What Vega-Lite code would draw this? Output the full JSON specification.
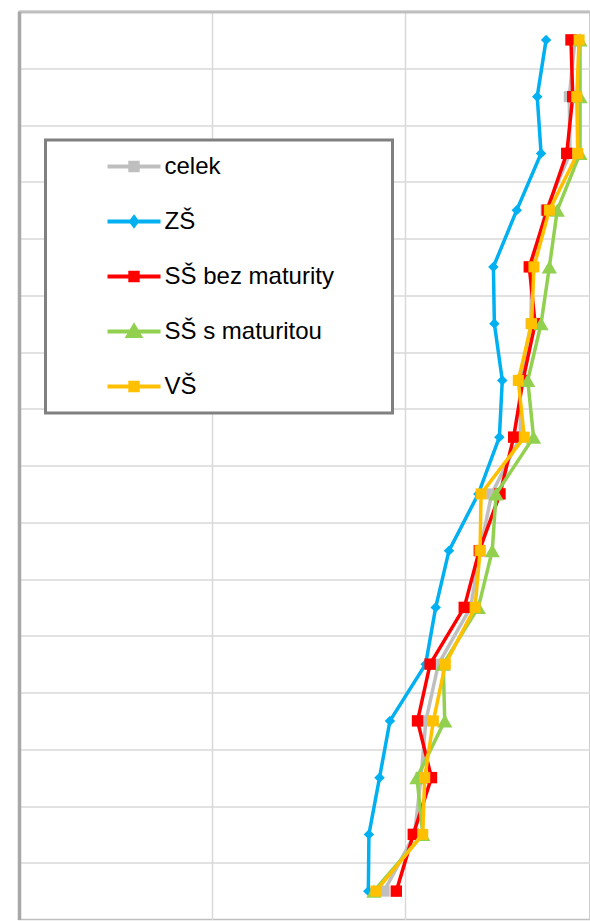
{
  "$schema": "https://vega.github.io/schema/vega-lite/v6.json",
  "width": 571,
  "height": 908,
  "autosize": {"type": "none"},
  "padding": {"left": 19, "top": 11.5, "right": 0, "bottom": 1},
  "background": "white",
  "config": {
    "view": {"stroke": "#bfbfbf", "strokeWidth": 1.5},
    "font": "Liberation Sans"
  },
  "data": {
    "values": [
      {"row": 1, "series": "celek", "value": 288.1}, {"row": 2, "series": "celek", "value": 285.1}, {"row": 3, "series": "celek", "value": 285.5}, {"row": 4, "series": "celek", "value": 273.1},
      {"row": 5, "series": "celek", "value": 265.6}, {"row": 6, "series": "celek", "value": 265.3}, {"row": 7, "series": "celek", "value": 259.6}, {"row": 8, "series": "celek", "value": 259.8},
      {"row": 9, "series": "celek", "value": 244.9}, {"row": 10, "series": "celek", "value": 238.9}, {"row": 11, "series": "celek", "value": 234.0}, {"row": 12, "series": "celek", "value": 217.3},
      {"row": 13, "series": "celek", "value": 210.8}, {"row": 14, "series": "celek", "value": 208.3}, {"row": 15, "series": "celek", "value": 204.9}, {"row": 16, "series": "celek", "value": 189.2},
      {"row": 1, "series": "ZŠ", "value": 273.1}, {"row": 2, "series": "ZŠ", "value": 268.5}, {"row": 3, "series": "ZŠ", "value": 270.5}, {"row": 4, "series": "ZŠ", "value": 257.9},
      {"row": 5, "series": "ZŠ", "value": 245.8}, {"row": 6, "series": "ZŠ", "value": 246.3}, {"row": 7, "series": "ZŠ", "value": 250.4}, {"row": 8, "series": "ZŠ", "value": 248.9},
      {"row": 9, "series": "ZŠ", "value": 238.0}, {"row": 10, "series": "ZŠ", "value": 222.8}, {"row": 11, "series": "ZŠ", "value": 215.9}, {"row": 12, "series": "ZŠ", "value": 210.7},
      {"row": 13, "series": "ZŠ", "value": 192.2}, {"row": 14, "series": "ZŠ", "value": 186.8}, {"row": 15, "series": "ZŠ", "value": 181.3}, {"row": 16, "series": "ZŠ", "value": 181.0},
      {"row": 1, "series": "SŠ bez maturity", "value": 286.0}, {"row": 2, "series": "SŠ bez maturity", "value": 286.9}, {"row": 3, "series": "SŠ bez maturity", "value": 283.8}, {"row": 4, "series": "SŠ bez maturity", "value": 273.7},
      {"row": 5, "series": "SŠ bez maturity", "value": 264.4}, {"row": 6, "series": "SŠ bez maturity", "value": 267.4}, {"row": 7, "series": "SŠ bez maturity", "value": 261.1}, {"row": 8, "series": "SŠ bez maturity", "value": 256.3},
      {"row": 9, "series": "SŠ bez maturity", "value": 249.2}, {"row": 10, "series": "SŠ bez maturity", "value": 238.5}, {"row": 11, "series": "SŠ bez maturity", "value": 230.7}, {"row": 12, "series": "SŠ bez maturity", "value": 213.0},
      {"row": 13, "series": "SŠ bez maturity", "value": 206.5}, {"row": 14, "series": "SŠ bez maturity", "value": 213.7}, {"row": 15, "series": "SŠ bez maturity", "value": 204.3}, {"row": 16, "series": "SŠ bez maturity", "value": 195.5},
      {"row": 1, "series": "SŠ s maturitou", "value": 290.7}, {"row": 2, "series": "SŠ s maturitou", "value": 290.7}, {"row": 3, "series": "SŠ s maturitou", "value": 290.7}, {"row": 4, "series": "SŠ s maturitou", "value": 278.9},
      {"row": 5, "series": "SŠ s maturitou", "value": 274.8}, {"row": 6, "series": "SŠ s maturitou", "value": 270.5}, {"row": 7, "series": "SŠ s maturitou", "value": 263.6}, {"row": 8, "series": "SŠ s maturitou", "value": 266.6},
      {"row": 9, "series": "SŠ s maturitou", "value": 247.2}, {"row": 10, "series": "SŠ s maturitou", "value": 245.2}, {"row": 11, "series": "SŠ s maturitou", "value": 238.0}, {"row": 12, "series": "SŠ s maturitou", "value": 219.8},
      {"row": 13, "series": "SŠ s maturitou", "value": 220.6}, {"row": 14, "series": "SŠ s maturitou", "value": 206.2}, {"row": 15, "series": "SŠ s maturitou", "value": 209.2}, {"row": 16, "series": "SŠ s maturitou", "value": 183.9},
      {"row": 1, "series": "VŠ", "value": 290.2}, {"row": 2, "series": "VŠ", "value": 289.0}, {"row": 3, "series": "VŠ", "value": 289.5}, {"row": 4, "series": "VŠ", "value": 274.8},
      {"row": 5, "series": "VŠ", "value": 266.8}, {"row": 6, "series": "VŠ", "value": 265.6}, {"row": 7, "series": "VŠ", "value": 258.7}, {"row": 8, "series": "VŠ", "value": 261.8},
      {"row": 9, "series": "VŠ", "value": 239.4}, {"row": 10, "series": "VŠ", "value": 238.9}, {"row": 11, "series": "VŠ", "value": 236.3}, {"row": 12, "series": "VŠ", "value": 220.9},
      {"row": 13, "series": "VŠ", "value": 214.7}, {"row": 14, "series": "VŠ", "value": 210.2}, {"row": 15, "series": "VŠ", "value": 209.2}, {"row": 16, "series": "VŠ", "value": 184.9}
    ]
  },
  "encoding": {
    "x": {
      "field": "value", "type": "quantitative",
      "scale": {"domain": [0, 295.85], "nice": false, "zero": false},
      "axis": {"orient": "top", "title": null, "labels": false, "ticks": false, "domain": true, "domainColor": "#bfbfbf", "domainWidth": 3, "grid": true, "gridColor": "#d9d9d9", "gridWidth": 1.5, "values": [100, 200]}
    },
    "y": {
      "field": "row", "type": "quantitative",
      "scale": {"domain": [0.5, 16.5], "nice": false, "zero": false, "reverse": true},
      "axis": {"title": null, "labels": false, "ticks": false, "domain": true, "domainColor": "#a8a8a8", "domainWidth": 3.5, "grid": true, "gridColor": "#d9d9d9", "gridWidth": 1.5, "values": [1.5, 2.5, 3.5, 4.5, 5.5, 6.5, 7.5, 8.5, 9.5, 10.5, 11.5, 12.5, 13.5, 14.5, 15.5]}
    },
    "order": {"field": "row", "type": "quantitative"},
    "color": {
      "field": "series", "type": "nominal",
      "scale": {"domain": ["celek", "ZŠ", "SŠ bez maturity", "SŠ s maturitou", "VŠ"], "range": ["#bfbfbf", "#00b0f0", "#ff0000", "#92d050", "#ffc000"]},
      "legend": {
        "orient": "none", "legendX": 26.5, "legendY": 128.5,
        "title": "\u00a0", "titleOrient": "right", "titlePadding": 59, "titleFontSize": 2,
        "padding": 0,
        "fillColor": "white", "strokeColor": "#808080",
        "symbolSize": 2809, "symbolOffset": 60, "symbolStrokeWidth": 4,
        "clipHeight": 53,
        "rowPadding": 2, "labelOffset": 2,
        "labelFont": "Liberation Sans", "labelFontSize": 24, "labelColor": "#000000", "labelLimit": 400,
        "encode": {
          "legend": {"update": {"strokeWidth": {"value": 3}}},
          "symbols": {"update": {
            "shape": {"signal": "datum.value === 'ZŠ' ? 'M-1,0H1M0,-0.15L0.11,0L0,0.15L-0.11,0Z' : datum.value === 'SŠ s maturitou' ? 'M-1,0H1M-0.22,0.17L0.22,0.17L0,-0.2Z' : 'M-1,0H1M-0.14,-0.14H0.14V0.14H-0.14Z'"},
            "fill": {"scale": "color", "field": "value"},
            "stroke": {"scale": "color", "field": "value"},
            "strokeWidth": {"value": 4},
            "opacity": {"value": 1},
            "fillOpacity": {"value": 1},
            "strokeOpacity": {"value": 1}
          }}
        }
      }
    }
  },
  "layer": [
    {"transform": [{"filter": "datum.series === 'celek'"}], "mark": {"type": "line", "strokeWidth": 3.5, "point": {"shape": "square", "size": 121, "filled": true, "opacity": 1}}},
    {"transform": [{"filter": "datum.series === 'ZŠ'"}], "mark": {"type": "line", "strokeWidth": 3.5, "point": {"shape": "diamond", "size": 110, "filled": true, "opacity": 1}}},
    {"transform": [{"filter": "datum.series === 'SŠ bez maturity'"}], "mark": {"type": "line", "strokeWidth": 3.5, "point": {"shape": "square", "size": 130, "filled": true, "opacity": 1}}},
    {"transform": [{"filter": "datum.series === 'SŠ s maturitou'"}], "mark": {"type": "line", "strokeWidth": 3.5, "point": {"shape": "triangle-up", "size": 230, "filled": true, "opacity": 1}}},
    {"transform": [{"filter": "datum.series === 'VŠ'"}], "mark": {"type": "line", "strokeWidth": 3.5, "point": {"shape": "square", "size": 121, "filled": true, "opacity": 1}}}
  ]
}
